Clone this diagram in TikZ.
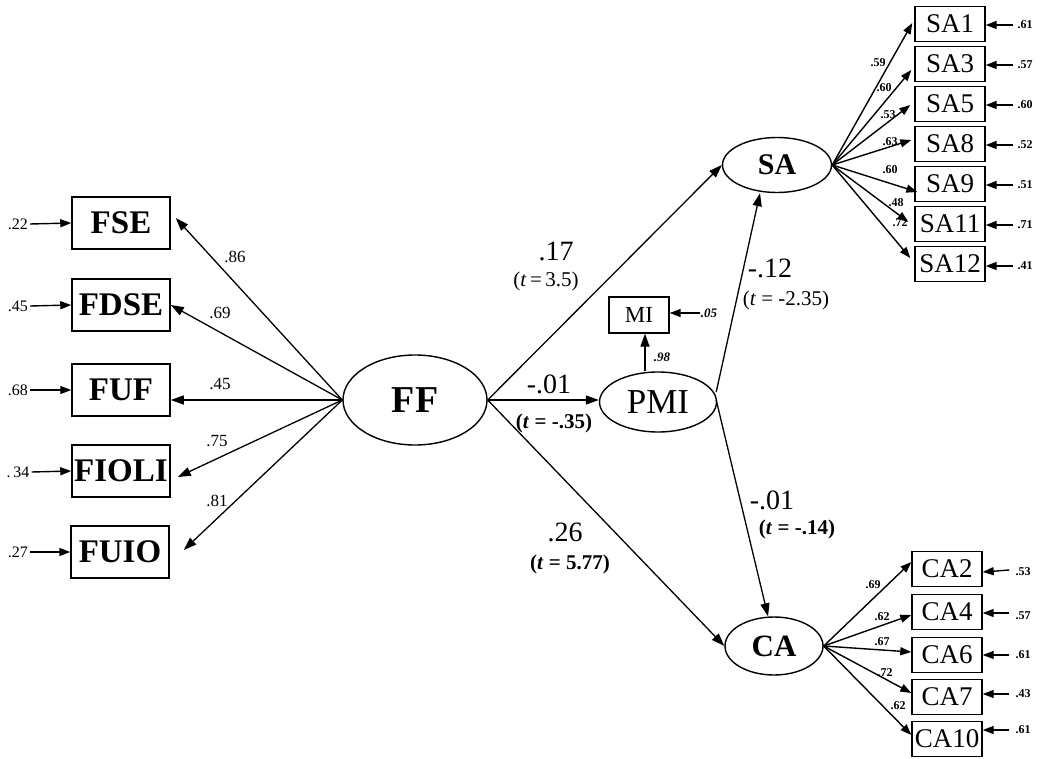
\documentclass[tikz,border=0pt]{standalone}
\usepackage{fontspec}
\setmainfont{Liberation Serif}
\usetikzlibrary{arrows.meta,shapes.geometric,calc}
\begin{document}
\begin{tikzpicture}[x=1pt,y=-1pt,
  fbox/.style={draw,line width=1.5pt,minimum width=98pt,minimum height=52pt,inner sep=0pt,font=\fontsize{33}{33}\selectfont\bfseries},
  ibox/.style={draw,line width=1.4pt,minimum width=70pt,minimum height=35pt,inner sep=0pt,font=\fontsize{27}{27}\selectfont},
  lat/.style={draw,ellipse,line width=1.4pt,inner sep=0pt},
  arr/.style={-{Triangle[length=13pt,width=9pt]},line width=1.3pt},
  sarr/.style={-{Triangle[length=11pt,width=8pt]},line width=1.4pt},
  lbl/.style={font=\fontsize{17}{17}\selectfont},
  elbl/.style={font=\fontsize{16}{16}\selectfont,inner sep=2pt},
  slbl/.style={font=\fontsize{12}{12}\selectfont\bfseries,inner sep=1pt},
  coef/.style={font=\fontsize{28}{28}\selectfont},
  tval/.style={font=\fontsize{21}{21}\selectfont}
]
\useasboundingbox (0,0) rectangle (1043,759);

% latent variables
\node[lat,minimum width=144pt,minimum height=90pt,font=\fontsize{38}{38}\selectfont\bfseries] (ff) at (415,400) {FF};
\node[lat,minimum width=117pt,minimum height=60pt,font=\fontsize{35}{35}\selectfont] (pmi) at (658,402) {PMI};
\node[lat,minimum width=109pt,minimum height=55pt,font=\fontsize{30}{30}\selectfont\bfseries] (sa) at (777,165) {SA};
\node[lat,minimum width=98pt,minimum height=58pt,font=\fontsize{31}{31}\selectfont\bfseries] (ca) at (774,646) {CA};
\node[draw,line width=1.3pt,minimum width=60pt,minimum height=36pt,inner sep=0pt,font=\fontsize{23}{23}\selectfont] (mi) at (639,315) {MI};

% left indicators
\node[fbox] (fse) at (121,223) {FSE};
\node[fbox] (fdse) at (121,305) {FDSE};
\node[fbox] (fuf) at (121,390) {FUF};
\node[fbox] (fioli) at (121,471) {FIOLI};
\node[fbox] (fuio) at (120,552) {FUIO};

\draw[arr] (ff.west) -- ($(fse.east)+(5,-5)$);
\draw[arr] (ff.west) -- (fdse.east);
\draw[arr] (ff.west) -- (fuf.east |- ff.west);
\draw[arr] (ff.west) -- ($(fioli.east)+(7,6)$);
\draw[arr] (ff.west) -- ($(fuio.east)+(14,-2)$);

\node[lbl] (l86) at (235,257) {.86};
\node[lbl] (l69) at (220,313) {.69};
\node[lbl] (l45) at (220,384) {.45};
\node[lbl] (l75) at (217,441) {.75};
\node[lbl] (l81) at (217,501) {.81};

\node[elbl] (e1) at (18,224) {.22};
\node[elbl] (e2) at (18,306) {.45};
\node[elbl] (e3) at (18,390) {.68};
\node[elbl] (e4) at (18,472) {.\,34};
\node[elbl] (e5) at (18,552) {.27};
\draw[sarr] (e1.east) -- (fse.west);
\draw[sarr] (e2.east) -- (fdse.west);
\draw[sarr] (e3.east) -- (fuf.west);
\draw[sarr] (e4.east) -- (fioli.west);
\draw[sarr] (e5.east) -- (fuio.west);

% structural paths
\draw[arr] (ff.east) -- (sa.west);
\draw[arr] (ff.east) -- (pmi.west |- ff.east);
\draw[arr] (ff.east) -- (ca.west);
\draw[arr] ($(pmi.east)+(-1,-10)$) -- ($(sa.south)+(-17,0)$);
\draw[arr] ($(pmi.east)+(-1,-2)$) -- ($(ca.north)+(-6,0)$);
\draw[arr] ($(pmi.north)+(-13,0)$) -- ($(mi.south)+(6,0)$);

\node[coef] (c1) at (556,251) {.17};
\node[tval] (t1) at (546,281) {(\textit{t}\,=\,3.5)};
\node[coef] (c2) at (549,384) {-.01};
\node[tval,font=\fontsize{21}{21}\selectfont\bfseries] (t2) at (554,423) {(\textit{t} = -.35)};
\node[coef] (c3) at (565,532) {.26};
\node[tval,font=\fontsize{21}{21}\selectfont\bfseries] (t3) at (570,564) {(\textit{t} = 5.77)};
\node[coef] (c4) at (770,268) {-.12};
\node[tval] (t4) at (786,300) {(\textit{t} = -2.35)};
\node[coef] (c5) at (772,500) {-.01};
\node[tval,font=\fontsize{21}{21}\selectfont\bfseries] (t5) at (797,529) {(\textit{t} = -.14)};

\node[slbl,font=\fontsize{13}{13}\selectfont\bfseries\itshape] (l98) at (662,357) {.98};
\node[slbl,font=\fontsize{13}{13}\selectfont\bfseries\itshape] (e05) at (709,313) {.05};
\draw[sarr] (e05.west) -- (mi.east |- e05.west);

% SA indicators
\node[ibox] (sa1) at (950,24) {SA1};
\node[ibox] (sa3) at (950,64) {SA3};
\node[ibox] (sa5) at (950,104) {SA5};
\node[ibox] (sa8) at (950,144) {SA8};
\node[ibox] (sa9) at (950,184) {SA9};
\node[ibox] (sa11) at (950,224) {SA11};
\node[ibox] (sa12) at (950,264) {SA12};

\draw[sarr] (sa.east) -- ($(sa1.west)+(-2,-1)$);
\draw[sarr] (sa.east) -- ($(sa3.west)+(-3,6)$);
\draw[sarr] (sa.east) -- ($(sa5.west)+(-4,1)$);
\draw[sarr] (sa.east) -- ($(sa8.west)+(-3,-4)$);
\draw[sarr] (sa.east) -- ($(sa9.west)+(3,8)$);
\draw[sarr] (sa.east) -- ($(sa11.west)+(-6,-2)$);
\draw[sarr] (sa.east) -- ($(sa12.west)+(-4,-6)$);

\node[slbl] (s1) at (878,63) {.59};
\node[slbl] (s3) at (884,88) {.60};
\node[slbl] (s5) at (888,115) {.53};
\node[slbl] (s8) at (890,142) {.63};
\node[slbl] (s9) at (890,170) {.60};
\node[slbl] (s11) at (896,203) {.48};
\node[slbl] (s12) at (900,223) {.72};

\node[slbl] (r1) at (1025,25) {.61};
\node[slbl] (r3) at (1025,65) {.57};
\node[slbl] (r5) at (1025,105) {.60};
\node[slbl] (r8) at (1025,145) {.52};
\node[slbl] (r9) at (1025,185) {.51};
\node[slbl] (r11) at (1025,225) {.71};
\node[slbl] (r12) at (1025,266) {.41};
\draw[sarr] ($(r1.west)+(-3,0)$) -- (sa1.east |- r1.west);
\draw[sarr] ($(r3.west)+(-3,0)$) -- (sa3.east |- r3.west);
\draw[sarr] ($(r5.west)+(-3,0)$) -- (sa5.east |- r5.west);
\draw[sarr] ($(r8.west)+(-3,0)$) -- (sa8.east |- r8.west);
\draw[sarr] ($(r9.west)+(-3,0)$) -- (sa9.east |- r9.west);
\draw[sarr] ($(r11.west)+(-3,0)$) -- (sa11.east |- r11.west);
\draw[sarr] ($(r12.west)+(-3,0)$) -- (sa12.east |- r12.west);

% CA indicators
\node[ibox] (ca2) at (947,569) {CA2};
\node[ibox] (ca4) at (947,612) {CA4};
\node[ibox] (ca6) at (947,655) {CA6};
\node[ibox] (ca7) at (947,697) {CA7};
\node[ibox] (ca10) at (947,739) {CA10};

\draw[sarr] (ca.east) -- ($(ca2.west)+(0,-7)$);
\draw[sarr] (ca.east) -- ($(ca4.west)+(0,3)$);
\draw[sarr] (ca.east) -- ($(ca6.west)+(0,-3)$);
\draw[sarr] (ca.east) -- ($(ca7.west)+(0,-4)$);
\draw[sarr] (ca.east) -- ($(ca10.west)+(0,-4)$);

\node[slbl] (k2) at (873,585) {.69};
\node[slbl] (k4) at (882,617) {.62};
\node[slbl] (k6) at (882,642) {.67};
\node[slbl] (k7) at (885,673) {.72};
\node[slbl] (k10) at (898,706) {.62};

\node[slbl] (q2) at (1023,572) {.53};
\node[slbl] (q4) at (1023,616) {.57};
\node[slbl] (q6) at (1023,655) {.61};
\node[slbl] (q7) at (1023,694) {.43};
\node[slbl] (q10) at (1023,730) {.61};
\draw[sarr] ($(q2.west)+(-5,-2)$) -- (ca2.east |- q2.west);
\draw[sarr] ($(q4.west)+(-5,-3)$) -- ($(ca4.east |- q4.west)+(0,-3)$);
\draw[sarr] ($(q6.west)+(-5,0)$) -- (ca6.east |- q6.west);
\draw[sarr] ($(q7.west)+(-5,0)$) -- (ca7.east |- q7.west);
\draw[sarr] ($(q10.west)+(-5,0)$) -- (ca10.east |- q10.west);
\end{tikzpicture}
\end{document}
